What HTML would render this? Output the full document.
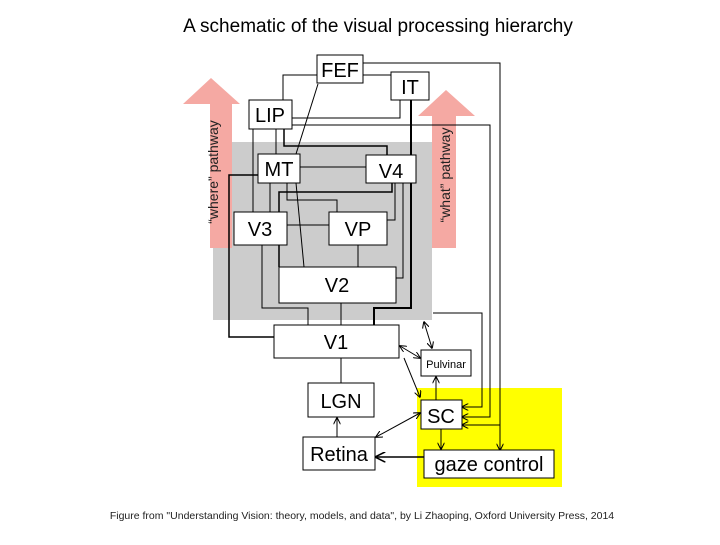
<!DOCTYPE html>
<html><head><style>
body{margin:0;background:#fff;width:720px;height:540px;overflow:hidden;font-family:"Liberation Sans",sans-serif}
</style></head><body>
<svg width="720" height="540" viewBox="0 0 720 540" xmlns="http://www.w3.org/2000/svg" font-family="Liberation Sans, sans-serif">
<defs>
<marker id="a" viewBox="0 0 10 10" refX="9" refY="5" markerWidth="7" markerHeight="7" orient="auto-start-reverse"><path d="M0,0 L10,5 L0,10" fill="none" stroke="#000" stroke-width="1.5"/></marker>
</defs>
<text x="378" y="32" font-size="19" text-anchor="middle">A schematic of the visual processing hierarchy</text>
<rect x="213" y="142" width="219" height="178" fill="#cccccc"/>
<rect x="417" y="388" width="145" height="99" fill="#ffff00"/>
<!-- pathway arrows -->
<polygon points="211,78 240,104 232,104 232,248 210,248 210,104 183,104" fill="#f5a9a3"/>
<polygon points="446,90 475,116 456,116 456,248 432,248 432,116 418,116" fill="#f5a9a3"/>
<text transform="translate(218,172) rotate(-90)" font-size="14" text-anchor="middle" fill="#222">“where” pathway</text>
<text transform="translate(450,175) rotate(-90)" font-size="14" text-anchor="middle" fill="#222">“what” pathway</text>
<g stroke="#000" fill="none" stroke-width="1">
<polyline points="317,75 283,75 283,100"/>
<line x1="363" y1="75" x2="391" y2="75"/>
<polyline points="363,63 500,63 500,450" marker-end="url(#a)"/>
<line x1="500" y1="425" x2="462" y2="425" marker-end="url(#a)"/>
<line x1="318" y1="84" x2="296" y2="154"/>
<line x1="296" y1="183" x2="304" y2="267"/>
<polyline points="292,118 400,118 400,100"/>
<polyline points="292,125 490,125 490,417 462,417" marker-end="url(#a)"/>
<polyline points="433,313 482,313 482,407 462,407" marker-end="url(#a)"/>
<line x1="411" y1="100" x2="411" y2="155" stroke-width="2"/>
<polyline points="411,183 411,308 374,308 374,325" stroke-width="2"/>
<line x1="253" y1="129" x2="253" y2="212"/>
<line x1="276" y1="129" x2="276" y2="154"/>
<polyline points="284,129 284,146 387,146 387,155" stroke-width="1.5"/>
<line x1="300" y1="167" x2="366" y2="167"/>
<polyline points="258,175 229,175 229,337 274,337" stroke-width="1.5"/>
<line x1="270" y1="183" x2="270" y2="212"/>
<polyline points="279,267 279,192 392,192 392,183" stroke-width="1.5"/>
<polyline points="287,183 287,200 337,200 337,212"/>
<line x1="287" y1="225" x2="329" y2="225"/>
<polyline points="395,183 395,220 387,220"/>
<polyline points="403,183 403,278 396,278"/>
<polyline points="262,245 262,308 308,308 308,325"/>
<line x1="341" y1="303" x2="341" y2="325"/>
<line x1="358" y1="245" x2="358" y2="267"/>
<line x1="341" y1="358" x2="341" y2="383"/>
<line x1="337" y1="437" x2="337" y2="418" marker-end="url(#a)"/>
<line x1="376" y1="437" x2="420" y2="413" marker-start="url(#a)" marker-end="url(#a)"/>
<line x1="400" y1="346" x2="420" y2="358" marker-start="url(#a)" marker-end="url(#a)"/>
<line x1="404" y1="358" x2="420" y2="397" marker-end="url(#a)"/>
<line x1="424" y1="322" x2="432" y2="348" marker-start="url(#a)" marker-end="url(#a)"/>
<line x1="436" y1="400" x2="436" y2="377" marker-end="url(#a)"/>
<line x1="441" y1="429" x2="441" y2="449" marker-end="url(#a)"/>
<line x1="424" y1="457" x2="376" y2="457" marker-end="url(#a)" stroke-width="1.5"/>
</g>
<g stroke="#000" fill="#fff" stroke-width="1">
<rect x="317" y="55" width="46" height="28"/>
<rect x="391" y="72" width="38" height="28"/>
<rect x="249" y="100" width="43" height="29"/>
<rect x="258" y="154" width="42" height="29"/>
<rect x="366" y="155" width="50" height="28"/>
<rect x="234" y="212" width="53" height="33"/>
<rect x="329" y="212" width="58" height="33"/>
<rect x="279" y="267" width="117" height="36"/>
<rect x="274" y="325" width="125" height="33"/>
<rect x="421" y="350" width="50" height="26"/>
<rect x="308" y="383" width="66" height="34"/>
<rect x="421" y="400" width="41" height="29"/>
<rect x="303" y="437" width="72" height="33"/>
<rect x="424" y="450" width="130" height="28"/>
</g>
<g font-size="20" text-anchor="middle">
<text x="340" y="77">FEF</text>
<text x="410" y="94">IT</text>
<text x="270" y="122">LIP</text>
<text x="279" y="176">MT</text>
<text x="391" y="178">V4</text>
<text x="260" y="236">V3</text>
<text x="358" y="236">VP</text>
<text x="337" y="292">V2</text>
<text x="336" y="349">V1</text>
<text x="446" y="368" font-size="11">Pulvinar</text>
<text x="341" y="408">LGN</text>
<text x="441" y="423">SC</text>
<text x="339" y="461">Retina</text>
<text x="489" y="471">gaze control</text>
</g>
<text x="362" y="519" font-size="10.5" text-anchor="middle" fill="#222">Figure from "Understanding Vision: theory, models, and data", by Li Zhaoping, Oxford University Press, 2014</text>
</svg>
</body></html>
